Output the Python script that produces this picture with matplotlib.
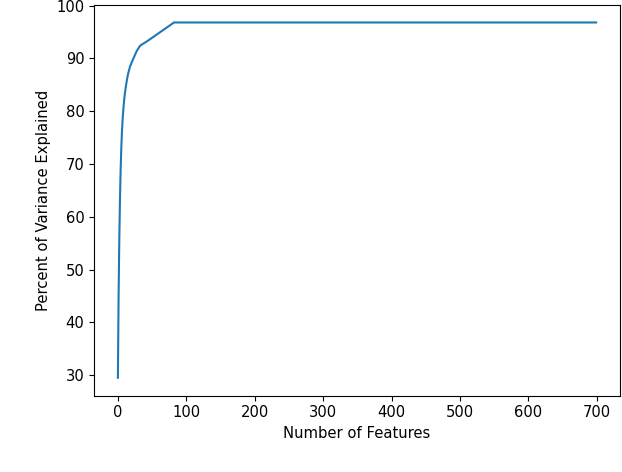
import matplotlib
matplotlib.use("Agg")
import matplotlib.pyplot as plt

# Cumulative percent of variance explained (features 0..82)
head_values = [
    29.5, 44.6, 55.3, 63.0, 68.9, 73.1, 76.3, 78.6, 80.4, 81.9,
    83.1, 84.1, 85.0, 85.8, 86.5, 87.1, 87.6, 88.1, 88.6, 88.8,
    89.2, 89.5, 89.8, 90.1, 90.4, 90.7, 91.0, 91.25, 91.5, 91.7,
    91.9, 92.1, 92.3, 92.45, 92.55, 92.63, 92.70, 92.78, 92.86, 92.94,
    93.02, 93.10, 93.18, 93.27, 93.36, 93.45, 93.54, 93.63, 93.71, 93.80,
    93.88, 93.97, 94.06, 94.15, 94.24, 94.36, 94.45, 94.53, 94.61, 94.70,
    94.80, 94.89, 94.98, 95.07, 95.16, 95.25, 95.33, 95.42, 95.51, 95.60,
    95.69, 95.78, 95.87, 95.96, 96.05, 96.14, 96.23, 96.32, 96.41, 96.50,
    96.59, 96.68, 96.80,
]
plateau_value = 96.80          # flat level after feature 82
n_features = 700               # features 0..699

values = head_values + [plateau_value] * (n_features - len(head_values))
features = list(range(n_features))

plt.rcParams["font.size"] = 10.6

fig = plt.figure(figsize=(6.22, 4.72), dpi=100)
ax = fig.add_axes([0.1511, 0.162, 0.8457, 0.828])
ax.plot(features, values, color="#1f77b4", linewidth=1.5)
ax.set_xlabel("Number of Features")
ax.set_ylabel("Percent of Variance Explained")
ax.set_xticks([0, 100, 200, 300, 400, 500, 600, 700])
ax.set_yticks([30, 40, 50, 60, 70, 80, 90, 100])
fig.savefig("out.png", dpi=100)
